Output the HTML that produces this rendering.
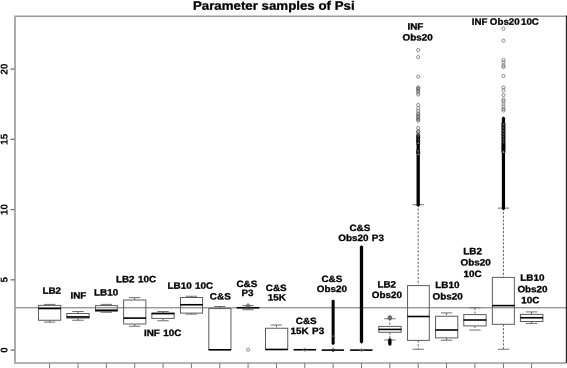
<!DOCTYPE html>
<html><head><meta charset="utf-8"><title>Parameter samples of Psi</title>
<style>
html,body{margin:0;padding:0;background:#fff;}
svg{display:block;}
text{text-rendering:geometricPrecision;font-family:"Liberation Sans",Arial,sans-serif;font-weight:bold;fill:#000;stroke:#000;stroke-width:0.3;}
.l{font-size:9.2px;text-anchor:middle;word-spacing:0.6px;}
.b{fill:none;stroke:#5c5c5c;stroke-width:1;}
.w{stroke:#555;stroke-width:0.95;stroke-dasharray:2.2 1.6;fill:none;}
.c{stroke:#707070;stroke-width:1;fill:none;}
.m{stroke:#000;stroke-width:1.6;fill:none;}
.o{fill:none;stroke:#555;stroke-width:0.65;}
</style></head>
<body>
<svg width="567" height="368" viewBox="0 0 567 368">
<rect width="567" height="368" fill="#fff"/>
<line x1="15" x2="566" y1="307.8" y2="307.8" stroke="#707070" stroke-width="1"/>
<line class="w" x1="49.64" x2="49.64" y1="304.40" y2="305.40"/><line class="c" x1="43.94" x2="55.34" y1="304.40" y2="304.40"/><line class="w" x1="49.64" x2="49.64" y1="320.25" y2="322.10"/><line class="c" x1="43.94" x2="55.34" y1="322.10" y2="322.10"/><rect class="b" x="38.55" y="305.40" width="22.20" height="14.85"/><line class="m" x1="38.35" x2="60.95" y1="308.50" y2="308.50"/>
<line class="w" x1="77.99" x2="77.99" y1="311.50" y2="313.50"/><line class="c" x1="72.29" x2="83.69" y1="311.50" y2="311.50"/><line class="w" x1="77.99" x2="77.99" y1="318.10" y2="320.25"/><line class="c" x1="72.29" x2="83.69" y1="320.25" y2="320.25"/><rect class="b" x="66.80" y="313.50" width="22.35" height="4.60"/><line class="m" x1="66.60" x2="89.35" y1="316.90" y2="316.90"/>
<line class="w" x1="106.34" x2="106.34" y1="304.40" y2="305.60"/><line class="c" x1="100.64" x2="112.04" y1="304.40" y2="304.40"/><line class="w" x1="106.34" x2="106.34" y1="311.25" y2="312.25"/><line class="c" x1="100.64" x2="112.04" y1="312.25" y2="312.25"/><rect class="b" x="95.50" y="305.60" width="21.80" height="5.65"/><line class="m" x1="95.30" x2="117.50" y1="310.25" y2="310.25"/>
<line class="w" x1="134.69" x2="134.69" y1="297.60" y2="300.00"/><line class="c" x1="128.99" x2="140.39" y1="297.60" y2="297.60"/><line class="w" x1="134.69" x2="134.69" y1="324.00" y2="326.25"/><line class="c" x1="128.99" x2="140.39" y1="326.25" y2="326.25"/><rect class="b" x="123.60" y="300.00" width="22.25" height="24.00"/><line class="m" x1="123.40" x2="146.05" y1="318.10" y2="318.10"/>
<line class="w" x1="163.04" x2="163.04" y1="311.50" y2="313.10"/><line class="c" x1="157.34" x2="168.74" y1="311.50" y2="311.50"/><line class="w" x1="163.04" x2="163.04" y1="318.40" y2="320.75"/><line class="c" x1="157.34" x2="168.74" y1="320.75" y2="320.75"/><rect class="b" x="151.85" y="313.10" width="22.35" height="5.30"/><line class="m" x1="151.65" x2="174.40" y1="313.60" y2="313.60"/>
<line class="w" x1="191.39" x2="191.39" y1="296.25" y2="297.50"/><line class="c" x1="185.69" x2="197.09" y1="296.25" y2="296.25"/><line class="w" x1="191.39" x2="191.39" y1="313.10" y2="314.10"/><line class="c" x1="185.69" x2="197.09" y1="314.10" y2="314.10"/><rect class="b" x="180.50" y="297.50" width="22.10" height="15.60"/><line class="m" x1="180.30" x2="202.80" y1="304.75" y2="304.75"/>
<line class="w" x1="219.74" x2="219.74" y1="306.50" y2="308.60"/><line class="c" x1="214.04" x2="225.44" y1="306.50" y2="306.50"/><rect class="b" x="208.80" y="308.60" width="22.15" height="41.00"/><line class="m" x1="208.60" x2="231.15" y1="349.80" y2="349.80"/>
<line class="w" x1="248.09" x2="248.09" y1="305.60" y2="307.75"/><line class="c" x1="242.39" x2="253.79" y1="305.60" y2="305.60"/><line class="w" x1="248.09" x2="248.09" y1="307.75" y2="309.75"/><line class="c" x1="242.39" x2="253.79" y1="309.75" y2="309.75"/><line class="m" x1="236.70" x2="259.35" y1="307.75" y2="307.75"/>
<line class="w" x1="276.44" x2="276.44" y1="325.00" y2="328.25"/><line class="c" x1="270.74" x2="282.14" y1="325.00" y2="325.00"/><rect class="b" x="265.50" y="328.25" width="22.25" height="21.15"/><line class="m" x1="265.30" x2="287.95" y1="349.50" y2="349.50"/>
<line class="m" x1="293.60" x2="315.95" y1="349.75" y2="349.75"/>
<line class="m" x1="321.70" x2="344.05" y1="350.10" y2="350.10"/>
<line class="m" x1="350.15" x2="372.55" y1="350.10" y2="350.10"/>
<line class="w" x1="389.84" x2="389.84" y1="318.75" y2="326.40"/><line class="c" x1="384.14" x2="395.54" y1="318.75" y2="318.75"/><line class="w" x1="389.84" x2="389.84" y1="332.30" y2="340.00"/><line class="c" x1="384.14" x2="395.54" y1="340.00" y2="340.00"/><rect class="b" x="378.80" y="326.40" width="22.35" height="5.90"/><line class="m" x1="378.60" x2="401.35" y1="329.40" y2="329.40"/>
<line class="w" x1="418.19" x2="418.19" y1="204.75" y2="285.60"/><line class="c" x1="412.49" x2="423.89" y1="204.75" y2="204.75"/><line class="w" x1="418.19" x2="418.19" y1="340.40" y2="349.25"/><line class="c" x1="412.49" x2="423.89" y1="349.25" y2="349.25"/><rect class="b" x="407.55" y="285.60" width="21.75" height="54.80"/><line class="m" x1="407.35" x2="429.50" y1="316.50" y2="316.50"/>
<line class="w" x1="446.54" x2="446.54" y1="312.90" y2="316.25"/><line class="c" x1="440.84" x2="452.24" y1="312.90" y2="312.90"/><line class="w" x1="446.54" x2="446.54" y1="337.90" y2="340.25"/><line class="c" x1="440.84" x2="452.24" y1="340.25" y2="340.25"/><rect class="b" x="435.55" y="316.25" width="22.25" height="21.65"/><line class="m" x1="435.35" x2="458.00" y1="330.00" y2="330.00"/>
<line class="w" x1="474.89" x2="474.89" y1="307.80" y2="314.60"/><line class="c" x1="469.19" x2="480.59" y1="307.80" y2="307.80"/><line class="w" x1="474.89" x2="474.89" y1="325.90" y2="330.00"/><line class="c" x1="469.19" x2="480.59" y1="330.00" y2="330.00"/><rect class="b" x="463.75" y="314.60" width="22.40" height="11.30"/><line class="m" x1="463.55" x2="486.35" y1="320.00" y2="320.00"/>
<line class="w" x1="503.45" x2="503.45" y1="208.10" y2="277.40"/><line class="c" x1="497.75" x2="509.15" y1="208.10" y2="208.10"/><line class="w" x1="503.45" x2="503.45" y1="324.30" y2="349.25"/><line class="c" x1="497.75" x2="509.15" y1="349.25" y2="349.25"/><rect class="b" x="492.35" y="277.40" width="22.00" height="46.90"/><line class="m" x1="492.15" x2="514.55" y1="305.60" y2="305.60"/>
<line class="w" x1="531.59" x2="531.59" y1="311.90" y2="314.40"/><line class="c" x1="525.89" x2="537.29" y1="311.90" y2="311.90"/><line class="w" x1="531.59" x2="531.59" y1="321.50" y2="323.40"/><line class="c" x1="525.89" x2="537.29" y1="323.40" y2="323.40"/><rect class="b" x="520.40" y="314.40" width="22.50" height="7.10"/><line class="m" x1="520.20" x2="543.10" y1="317.75" y2="317.75"/>
<circle class="o" cx="248.09" cy="305.40" r="1.6"/><circle class="o" cx="248.09" cy="306.20" r="1.6"/><circle class="o" cx="248.09" cy="349.75" r="1.6"/><circle cx="304.79" cy="349.75" r="1.5" fill="none" stroke="#888" stroke-width="0.7"/><circle cx="333.14" cy="350.10" r="1.5" fill="none" stroke="#222" stroke-width="0.7"/><circle cx="361.49" cy="350.10" r="1.5" fill="none" stroke="#999" stroke-width="0.7"/><path d="M331.64 344V300.6l1.5 -1.2l1.5 1.2V344l-1.5 1z" fill="#000"/><ellipse cx="333.14" cy="336.1" rx="0.7" ry="0.6" fill="#bbb"/><path d="M359.84 342.3V246.6l1.65 -1.3l1.65 1.3V342.3l-1.65 1.4z" fill="#000"/><rect x="388.14" y="315.7" width="3.4" height="4" rx="1.6" fill="#777" stroke="#333" stroke-width="0.7"/><rect x="388.14" y="338.2" width="3.4" height="7.6" rx="1.7" fill="#000"/><circle class="o" cx="418.19" cy="50.00" r="1.6"/><circle class="o" cx="418.19" cy="57.10" r="1.6"/><circle class="o" cx="418.19" cy="76.60" r="1.6"/><circle class="o" cx="418.19" cy="87.50" r="1.6"/><circle class="o" cx="418.19" cy="88.30" r="1.6"/><circle class="o" cx="418.19" cy="89.10" r="1.6"/><circle class="o" cx="418.19" cy="91.00" r="1.6"/><circle class="o" cx="418.19" cy="92.60" r="1.6"/><circle class="o" cx="418.19" cy="94.50" r="1.6"/><circle class="o" cx="418.19" cy="105.00" r="1.6"/><circle class="o" cx="418.19" cy="108.25" r="1.6"/><circle class="o" cx="418.19" cy="111.00" r="1.6"/><circle class="o" cx="418.19" cy="113.50" r="1.6"/><circle class="o" cx="418.19" cy="114.30" r="1.6"/><circle class="o" cx="418.19" cy="116.00" r="1.6"/><circle class="o" cx="418.19" cy="117.00" r="1.6"/><circle class="o" cx="418.19" cy="118.50" r="1.6"/><circle class="o" cx="418.19" cy="119.40" r="1.6"/><circle class="o" cx="418.19" cy="120.60" r="1.6"/><circle class="o" cx="418.19" cy="128.00" r="1.6"/><circle class="o" cx="418.19" cy="131.20" r="1.6"/><circle class="o" cx="418.19" cy="131.90" r="1.6"/><circle class="o" cx="418.19" cy="133.50" r="1.6"/><circle cx="418.19" cy="135.60" r="1.55" fill="none" stroke="#000" stroke-width="1"/><circle cx="418.19" cy="137.15" r="1.55" fill="none" stroke="#000" stroke-width="1"/><circle cx="418.19" cy="138.70" r="1.55" fill="none" stroke="#000" stroke-width="1"/><circle cx="418.19" cy="140.25" r="1.55" fill="none" stroke="#000" stroke-width="1"/><circle cx="418.19" cy="141.80" r="1.55" fill="none" stroke="#000" stroke-width="1"/><circle cx="418.19" cy="143.35" r="1.55" fill="none" stroke="#000" stroke-width="1"/><rect x="416.54" y="144" width="3.3" height="6" fill="#000"/><circle cx="418.19" cy="150.60" r="1.55" fill="none" stroke="#000" stroke-width="1"/><circle cx="418.19" cy="152.15" r="1.55" fill="none" stroke="#000" stroke-width="1"/><circle cx="418.19" cy="153.70" r="1.55" fill="none" stroke="#000" stroke-width="1"/><rect x="416.54" y="155" width="3.3" height="50.8" fill="#000"/><path d="M416.54 205.6h3.3l-1.65 1.2z" fill="#000"/><circle class="o" cx="503.45" cy="28.75" r="1.6"/><circle class="o" cx="503.45" cy="40.60" r="1.6"/><circle class="o" cx="503.45" cy="60.00" r="1.6"/><circle class="o" cx="503.45" cy="62.50" r="1.6"/><circle class="o" cx="503.45" cy="65.50" r="1.6"/><circle class="o" cx="503.45" cy="67.00" r="1.6"/><circle class="o" cx="503.45" cy="75.90" r="1.6"/><circle class="o" cx="503.45" cy="87.50" r="1.6"/><circle class="o" cx="503.45" cy="90.40" r="1.6"/><circle class="o" cx="503.45" cy="95.10" r="1.6"/><circle class="o" cx="503.45" cy="99.50" r="1.6"/><circle class="o" cx="503.45" cy="101.20" r="1.6"/><circle class="o" cx="503.45" cy="104.10" r="1.6"/><circle class="o" cx="503.45" cy="106.60" r="1.6"/><circle class="o" cx="503.45" cy="109.00" r="1.6"/><circle class="o" cx="503.45" cy="110.50" r="1.6"/><rect x="501.85" y="117.8" width="3.2" height="5.4" fill="#000"/><path d="M501.85 118h3.2l-1.6 -1.4z" fill="#000"/><circle cx="503.45" cy="123.60" r="1.55" fill="none" stroke="#000" stroke-width="1"/><circle cx="503.45" cy="125.10" r="1.55" fill="none" stroke="#000" stroke-width="1"/><circle cx="503.45" cy="126.60" r="1.55" fill="none" stroke="#000" stroke-width="1"/><circle cx="503.45" cy="128.10" r="1.55" fill="none" stroke="#000" stroke-width="1"/><circle cx="503.45" cy="129.60" r="1.55" fill="none" stroke="#000" stroke-width="1"/><circle cx="503.45" cy="131.10" r="1.55" fill="none" stroke="#000" stroke-width="1"/><circle cx="503.45" cy="132.60" r="1.55" fill="none" stroke="#000" stroke-width="1"/><circle cx="503.45" cy="134.10" r="1.55" fill="none" stroke="#000" stroke-width="1"/><circle cx="503.45" cy="135.60" r="1.55" fill="none" stroke="#000" stroke-width="1"/><circle cx="503.45" cy="137.10" r="1.55" fill="none" stroke="#000" stroke-width="1"/><circle cx="503.45" cy="138.60" r="1.55" fill="none" stroke="#000" stroke-width="1"/><circle cx="503.45" cy="140.10" r="1.55" fill="none" stroke="#000" stroke-width="1"/><circle cx="503.45" cy="141.60" r="1.55" fill="none" stroke="#000" stroke-width="1"/><circle cx="503.45" cy="143.10" r="1.55" fill="none" stroke="#000" stroke-width="1"/><circle cx="503.45" cy="144.60" r="1.55" fill="none" stroke="#000" stroke-width="1"/><circle cx="503.45" cy="146.10" r="1.55" fill="none" stroke="#000" stroke-width="1"/><circle cx="503.45" cy="147.60" r="1.55" fill="none" stroke="#000" stroke-width="1"/><circle cx="503.45" cy="149.10" r="1.55" fill="none" stroke="#000" stroke-width="1"/><circle cx="503.45" cy="150.60" r="1.55" fill="none" stroke="#000" stroke-width="1"/><circle cx="503.45" cy="152.10" r="1.55" fill="none" stroke="#000" stroke-width="1"/><rect x="501.85" y="143.5" width="3.2" height="7" fill="#000"/><rect x="501.85" y="153" width="3.2" height="56.2" fill="#000"/><path d="M501.85 209h3.2l-1.6 1.2z" fill="#000"/>
<path d="M15 363.8V16.2H566M14.2 363H566" fill="none" stroke="#999" stroke-width="1.6"/>
<rect x="565.8" y="15.4" width="1.4" height="347.6" fill="#2a2a2a"/>
<line x1="49.64" x2="49.64" y1="363" y2="368" stroke="#777" stroke-width="1"/><line x1="77.99" x2="77.99" y1="363" y2="368" stroke="#777" stroke-width="1"/><line x1="106.34" x2="106.34" y1="363" y2="368" stroke="#777" stroke-width="1"/><line x1="134.69" x2="134.69" y1="363" y2="368" stroke="#777" stroke-width="1"/><line x1="163.04" x2="163.04" y1="363" y2="368" stroke="#777" stroke-width="1"/><line x1="191.39" x2="191.39" y1="363" y2="368" stroke="#777" stroke-width="1"/><line x1="219.74" x2="219.74" y1="363" y2="368" stroke="#777" stroke-width="1"/><line x1="248.09" x2="248.09" y1="363" y2="368" stroke="#777" stroke-width="1"/><line x1="276.44" x2="276.44" y1="363" y2="368" stroke="#777" stroke-width="1"/><line x1="304.79" x2="304.79" y1="363" y2="368" stroke="#777" stroke-width="1"/><line x1="333.14" x2="333.14" y1="363" y2="368" stroke="#777" stroke-width="1"/><line x1="361.49" x2="361.49" y1="363" y2="368" stroke="#777" stroke-width="1"/><line x1="389.84" x2="389.84" y1="363" y2="368" stroke="#777" stroke-width="1"/><line x1="418.19" x2="418.19" y1="363" y2="368" stroke="#777" stroke-width="1"/><line x1="446.54" x2="446.54" y1="363" y2="368" stroke="#777" stroke-width="1"/><line x1="474.89" x2="474.89" y1="363" y2="368" stroke="#777" stroke-width="1"/><line x1="503.45" x2="503.45" y1="363" y2="368" stroke="#777" stroke-width="1"/><line x1="531.59" x2="531.59" y1="363" y2="368" stroke="#777" stroke-width="1"/>
<line x1="10.6" x2="14.6" y1="350.07" y2="350.07" stroke="#707070" stroke-width="1.3"/><text class="l" style="font-size:9.9px;stroke-width:0.1" transform="translate(7.6 350.07) rotate(-90.05) scale(0.99 1)">0</text>
<line x1="10.6" x2="14.6" y1="279.82" y2="279.82" stroke="#707070" stroke-width="1.3"/><text class="l" style="font-size:9.9px;stroke-width:0.1" transform="translate(7.6 279.82) rotate(-90.05) scale(0.99 1)">5</text>
<line x1="10.6" x2="14.6" y1="209.57" y2="209.57" stroke="#707070" stroke-width="1.3"/><text class="l" style="font-size:9.9px;stroke-width:0.1" transform="translate(7.6 209.57) rotate(-90.05) scale(0.99 1)">10</text>
<line x1="10.6" x2="14.6" y1="139.32" y2="139.32" stroke="#707070" stroke-width="1.3"/><text class="l" style="font-size:9.9px;stroke-width:0.1" transform="translate(7.6 139.32) rotate(-90.05) scale(0.99 1)">15</text>
<line x1="10.6" x2="14.6" y1="69.07" y2="69.07" stroke="#707070" stroke-width="1.3"/><text class="l" style="font-size:9.9px;stroke-width:0.1" transform="translate(7.6 69.07) rotate(-90.05) scale(0.99 1)">20</text>
<text transform="translate(192.9 9.7) scale(1.09 1) rotate(0.05)" font-size="12.2">Parameter samples of Psi</text>
<text class="l" transform="translate(51.75 293.75) scale(1.075 1) rotate(0.05)">LB2</text><text class="l" transform="translate(78.40 298.40) scale(1.075 1) rotate(0.05)">INF</text><text class="l" transform="translate(106.10 295.60) scale(1.075 1) rotate(0.05)">LB10</text><text class="l" transform="translate(136.00 282.25) scale(1.075 1) rotate(0.05)">LB2 10C</text><text class="l" transform="translate(162.70 336.10) scale(1.075 1) rotate(0.05)">INF 10C</text><text class="l" transform="translate(190.40 288.75) scale(1.075 1) rotate(0.05)">LB10 10C</text><text class="l" transform="translate(220.30 299.40) scale(1.075 1) rotate(0.05)">C&amp;S</text><text class="l" transform="translate(246.90 286.90) scale(1.075 1) rotate(0.05)">C&amp;S</text><text class="l" transform="translate(247.50 296.00) scale(1.075 1) rotate(0.05)">P3</text><text class="l" transform="translate(276.25 291.00) scale(1.075 1) rotate(0.05)">C&amp;S</text><text class="l" transform="translate(276.90 300.60) scale(1.075 1) rotate(0.05)">15K</text><text class="l" transform="translate(306.25 323.90) scale(1.075 1) rotate(0.05)">C&amp;S</text><text class="l" transform="translate(307.40 333.90) scale(1.075 1) rotate(0.05)">15K P3</text><text class="l" transform="translate(331.90 281.90) scale(1.075 1) rotate(0.05)">C&amp;S</text><text class="l" transform="translate(331.90 291.90) scale(1.075 1) rotate(0.05)">Obs20</text><text class="l" transform="translate(359.90 231.00) scale(1.075 1) rotate(0.05)">C&amp;S</text><text class="l" transform="translate(361.10 241.00) scale(1.075 1) rotate(0.05)">Obs20 P3</text><text class="l" transform="translate(386.75 287.40) scale(1.075 1) rotate(0.05)">LB2</text><text class="l" transform="translate(386.90 298.10) scale(1.075 1) rotate(0.05)">Obs20</text><text class="l" transform="translate(415.40 29.40) scale(1.075 1) rotate(0.05)">INF</text><text class="l" transform="translate(417.60 40.60) scale(1.075 1) rotate(0.05)">Obs20</text><text class="l" transform="translate(447.40 287.90) scale(1.075 1) rotate(0.05)">LB10</text><text class="l" transform="translate(447.60 299.40) scale(1.075 1) rotate(0.05)">Obs20</text><text class="l" transform="translate(472.60 254.20) scale(1.075 1) rotate(0.05)">LB2</text><text class="l" transform="translate(475.60 265.60) scale(1.075 1) rotate(0.05)">Obs20</text><text class="l" transform="translate(472.50 276.90) scale(1.075 1) rotate(0.05)">10C</text><text class="l" style="text-anchor:start;word-spacing:0" transform="translate(471.8 24.75) scale(1.06 1) rotate(0.05)">INF <tspan dx="-0.3">Obs20</tspan> <tspan dx="-1.3">10C</tspan></text><text class="l" transform="translate(532.40 280.80) scale(1.075 1) rotate(0.05)">LB10</text><text class="l" transform="translate(532.50 292.25) scale(1.075 1) rotate(0.05)">Obs20</text><text class="l" transform="translate(530.20 303.20) scale(1.075 1) rotate(0.05)">10C</text>
</svg>
</body></html>
